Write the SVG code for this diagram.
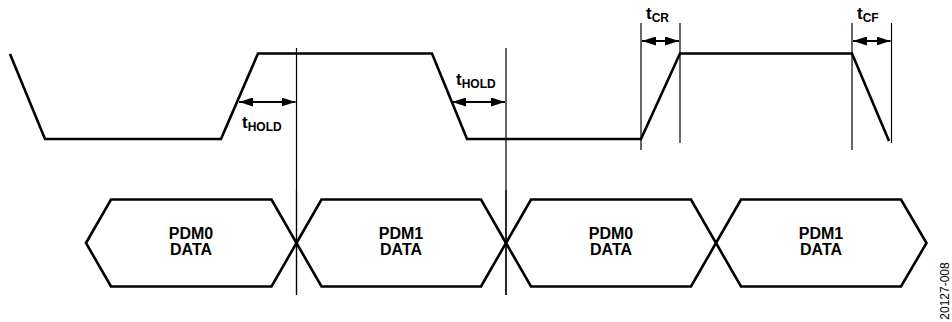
<svg xmlns="http://www.w3.org/2000/svg" width="952" height="322" viewBox="0 0 952 322">
<style>
.wave{fill:none;stroke:#000;stroke-width:2.6;stroke-linejoin:miter}
.ref{fill:none;stroke:#000;stroke-width:1.2}
.hex{fill:#fff;stroke:#000;stroke-width:2.6;stroke-linejoin:miter}
.arr{stroke:#000;stroke-width:2;marker-start:url(#ah);marker-end:url(#ah)}
.lbl{font-family:"Liberation Sans",Arial,sans-serif;font-weight:bold;font-size:17px;fill:#000}
.sub{font-size:12px}
.hx{font-family:"Liberation Sans",Arial,sans-serif;font-weight:bold;font-size:16px;fill:#000;text-anchor:middle}
.id{font-family:"Liberation Sans",Arial,sans-serif;font-size:12px;fill:#000}
</style>
<defs>
<marker id="ah" viewBox="0 0 14 9" refX="14" refY="4.5" markerWidth="14" markerHeight="9" markerUnits="userSpaceOnUse" orient="auto-start-reverse">
<path d="M0,0 L14,4.5 L0,9 Z" fill="#000"/>
</marker>
</defs>
<rect width="952" height="322" fill="#fff"/>
<g id="connectors">
<path class="wave" d="M10,54 L45,139 L221,139 L258,53.5 L432,53.5 L467,139 L641,139 L680,53.5 L852,53.5 L889,141"/>
<line class="ref" x1="296.5" y1="48" x2="296.5" y2="295"/>
<line class="ref" x1="506" y1="48" x2="506" y2="295"/>
<line class="ref" x1="641" y1="23" x2="641" y2="150"/>
<line class="ref" x1="680" y1="23" x2="680" y2="143"/>
<line class="ref" x1="852" y1="23" x2="852" y2="150"/>
<line class="ref" x1="891.5" y1="23" x2="891.5" y2="143"/>
<line class="arr" x1="239" y1="102" x2="295.5" y2="102"/>
<line class="arr" x1="452" y1="102" x2="505" y2="102"/>
<line class="arr" x1="642" y1="41" x2="679" y2="41"/>
<line class="arr" x1="853" y1="41" x2="890.5" y2="41"/>
</g>
<g id="labels">
<text class="lbl" x="242" y="128">t<tspan class="sub" dy="3">HOLD</tspan></text>
<text class="lbl" x="456" y="85">t<tspan class="sub" dy="3">HOLD</tspan></text>
<text class="lbl" x="646" y="19">t<tspan class="sub" dy="3">CR</tspan></text>
<text class="lbl" x="857" y="19">t<tspan class="sub" dy="3">CF</tspan></text>
</g>
<g id="pdm0a">
<path class="hex" d="M86,243 L111,199.5 L271.5,199.5 L296.5,243 L271.5,286.5 L111,286.5 Z"/>
<text class="hx" x="191" y="239">PDM0</text>
<text class="hx" x="191" y="255">DATA</text>
</g>
<g id="pdm1a">
<path class="hex" d="M296.5,243 L321.5,199.5 L481,199.5 L506,243 L481,286.5 L321.5,286.5 Z"/>
<text class="hx" x="401" y="239">PDM1</text>
<text class="hx" x="401" y="255">DATA</text>
</g>
<g id="pdm0b">
<path class="hex" d="M506,243 L531,199.5 L691,199.5 L716,243 L691,286.5 L531,286.5 Z"/>
<text class="hx" x="611" y="239">PDM0</text>
<text class="hx" x="611" y="255">DATA</text>
</g>
<g id="pdm1b">
<path class="hex" d="M716,243 L741,199.5 L901,199.5 L926.5,243 L901,286.5 L741,286.5 Z"/>
<text class="hx" x="821" y="239">PDM1</text>
<text class="hx" x="821" y="255">DATA</text>
</g>
<line class="ref" x1="296.5" y1="190" x2="296.5" y2="295"/>
<line class="ref" x1="506" y1="190" x2="506" y2="295"/>
<text class="id" transform="translate(949,291) rotate(-90)" text-anchor="middle">20127-008</text>
</svg>
